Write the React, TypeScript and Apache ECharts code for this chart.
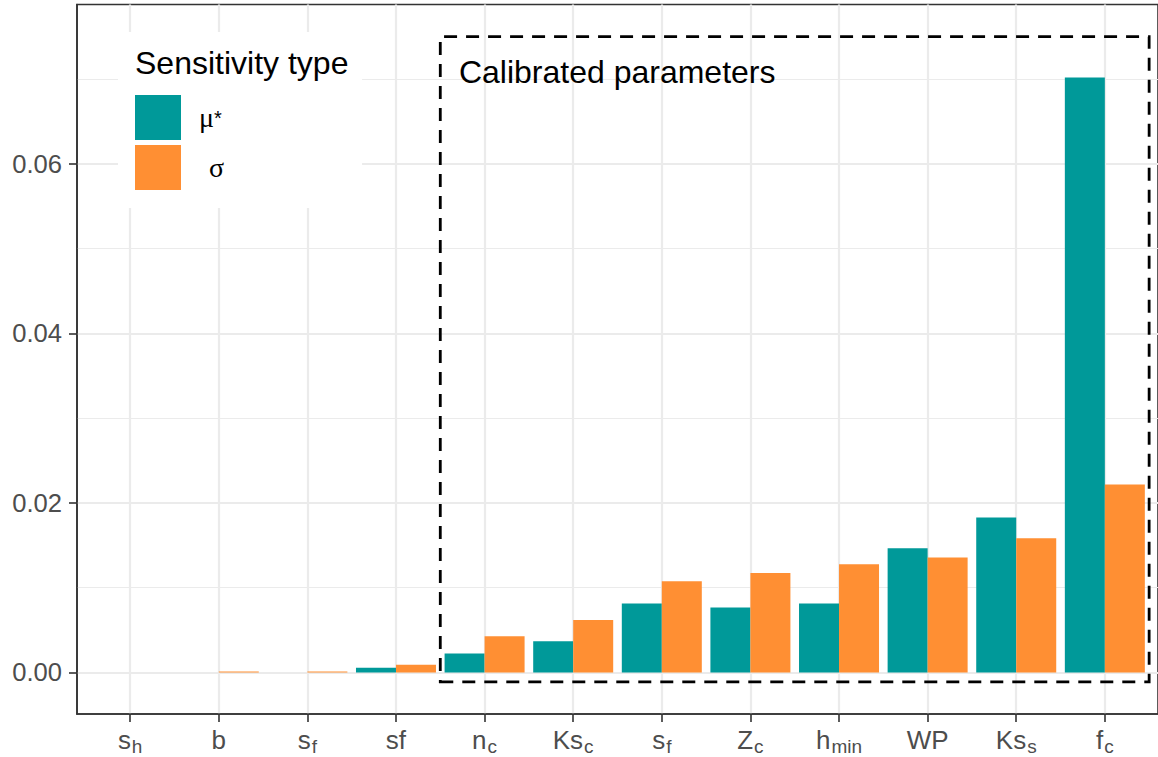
import React, { useEffect, useRef } from 'react';
import * as echarts from 'echarts';

// Categories: main text + subscript
const catMain = ['s', 'b', 's', 'sf', 'n', 'Ks', 's', 'Z', 'h', 'WP', 'Ks', 'f'];
const catSub = ['h', '', 'f', '', 'c', 'c', 'f', 'c', 'min', '', 's', 'c'];

// Sensitivity values
const muStar = [0, 0, 0, 0.00055, 0.00224, 0.00369, 0.00813, 0.00766, 0.00813, 0.01465, 0.01827, 0.0702];
const sigma = [0, 0.00012, 0.00012, 0.00091, 0.00428, 0.0062, 0.01076, 0.01174, 0.01276, 0.01355, 0.01583, 0.02216];

// Axis ticks
const yMajorTicks = [0, 0.02, 0.04, 0.06];
const yMinorTicks = [0.01, 0.03, 0.05, 0.07];
const xTicks = catMain.map((_, i) => i);

// Calibrated parameters box (data coordinates)
const boxX = [3.5, 11.5];
const boxY = [-0.0011, 0.075];

const TEAL = '#009999';
const ORANGE = '#FF8F33';
const FONT = '"Liberation Sans", Arial, sans-serif';
const SERIF = '"Liberation Serif", "DejaVu Serif", serif';

export default function App() {
  const ref = useRef<HTMLDivElement>(null);
  useEffect(() => {
    if (!ref.current) return;
    const chart = echarts.init(ref.current, undefined, { renderer: 'svg' });
    const option: any = {
      animation: false,
      backgroundColor: '#fff',
      title: {
        text: 'Sensitivity type',
        left: 135,
        top: 47,
        padding: 0,
        textStyle: { fontSize: 32, fontWeight: 'normal', color: '#000', fontFamily: FONT },
      },
      legend: {
        orient: 'vertical',
        left: 118,
        top: 32,
        padding: [63, 138, 18, 17],
        backgroundColor: '#fff',
        itemWidth: 46,
        itemHeight: 45,
        itemGap: 5,
        icon: 'rect',
        data: ['μ*', 'σ'],
        formatter: (name: string) => (name === 'μ*' ? '{g|μ}{sup|*}' : '{g2|σ}'),
        textStyle: {
          color: '#000',
          rich: {
            g: { fontFamily: SERIF, fontSize: 28, padding: [0, 0, 0, 13], color: '#000' },
            sup: { fontFamily: FONT, fontSize: 20, color: '#000' },
            g2: { fontFamily: SERIF, fontSize: 28, padding: [0, 0, 0, 23], color: '#000' },
          },
        },
      },
      grid: {
        left: 77,
        right: -2,
        top: 4.5,
        bottom: 43,
        show: true,
        borderColor: '#333',
        borderWidth: 1.6,
        backgroundColor: '#fff',
      },
      xAxis: {
        type: 'value',
        min: -0.6,
        max: 11.6,
        axisLine: { show: true, onZero: false, lineStyle: { color: '#333', width: 1.6 } },
        axisTick: { show: true, length: 8, customValues: xTicks, lineStyle: { color: '#333', width: 1.6 } },
        axisLabel: {
          customValues: xTicks,
          margin: 9,
          color: '#4d4d4d',
          formatter: (v: number) => {
            const i = Math.round(v);
            const m = catMain[i] ?? '';
            const s = catSub[i] ?? '';
            return s ? `{m|${m}}{s|${s}}` : `{m|${m}}`;
          },
          rich: {
            m: { fontFamily: FONT, fontSize: 26, lineHeight: 33, color: '#4d4d4d' },
            s: { fontFamily: FONT, fontSize: 19, lineHeight: 19, padding: [14, 0, 0, 1], color: '#4d4d4d' },
          },
        },
        splitLine: { show: true, lineStyle: { color: '#ebebeb', width: 2.2 } },
      },
      yAxis: [
        {
          type: 'value',
          min: -0.0049,
          max: 0.0788,
          axisLine: { show: true, onZero: false, lineStyle: { color: '#333', width: 1.6 } },
          axisTick: { show: true, length: 8, customValues: yMajorTicks, lineStyle: { color: '#333', width: 1.6 } },
          axisLabel: {
            customValues: yMajorTicks,
            margin: 15,
            color: '#4d4d4d',
            fontSize: 25.6,
            fontFamily: FONT,
            formatter: (v: number) => v.toFixed(2),
          },
          splitLine: { show: true, lineStyle: { color: '#ebebeb', width: 2.2 } },
        },
        {
          type: 'value',
          min: -0.0049,
          max: 0.0788,
          position: 'left',
          axisLine: { show: false, onZero: false },
          axisTick: { show: false, customValues: yMinorTicks },
          axisLabel: { show: false, customValues: yMinorTicks },
          splitLine: { show: true, lineStyle: { color: '#ebebeb', width: 1.1 } },
        },
      ],
      series: [
        {
          name: 'μ*',
          type: 'bar',
          data: muStar.map((v, i) => [i, v]),
          barWidth: 40,
          barGap: '0%',
          itemStyle: { color: TEAL },
          markArea: {
            silent: true,
            itemStyle: {
              color: 'rgba(0,0,0,0)',
              borderColor: '#000',
              borderWidth: 2.8,
              borderType: [13, 9],
            },
            label: {
              show: true,
              position: 'insideTopLeft',
              distance: 18,
              offset: [2, 3],
              fontSize: 32,
              color: '#000',
              fontFamily: FONT,
            },
            data: [
              [
                { name: 'Calibrated parameters', xAxis: boxX[0], yAxis: boxY[1] },
                { xAxis: boxX[1], yAxis: boxY[0] },
              ],
            ],
          },
        },
        {
          name: 'σ',
          type: 'bar',
          data: sigma.map((v, i) => [i, v]),
          barWidth: 40,
          barGap: '0%',
          itemStyle: { color: ORANGE },
        },
      ],
    };
    chart.setOption(option);
    return () => chart.dispose();
  }, []);
  return <div ref={ref} style={{ position: 'fixed', left: 0, top: 0, width: 1158, height: 757 }} />;
}
